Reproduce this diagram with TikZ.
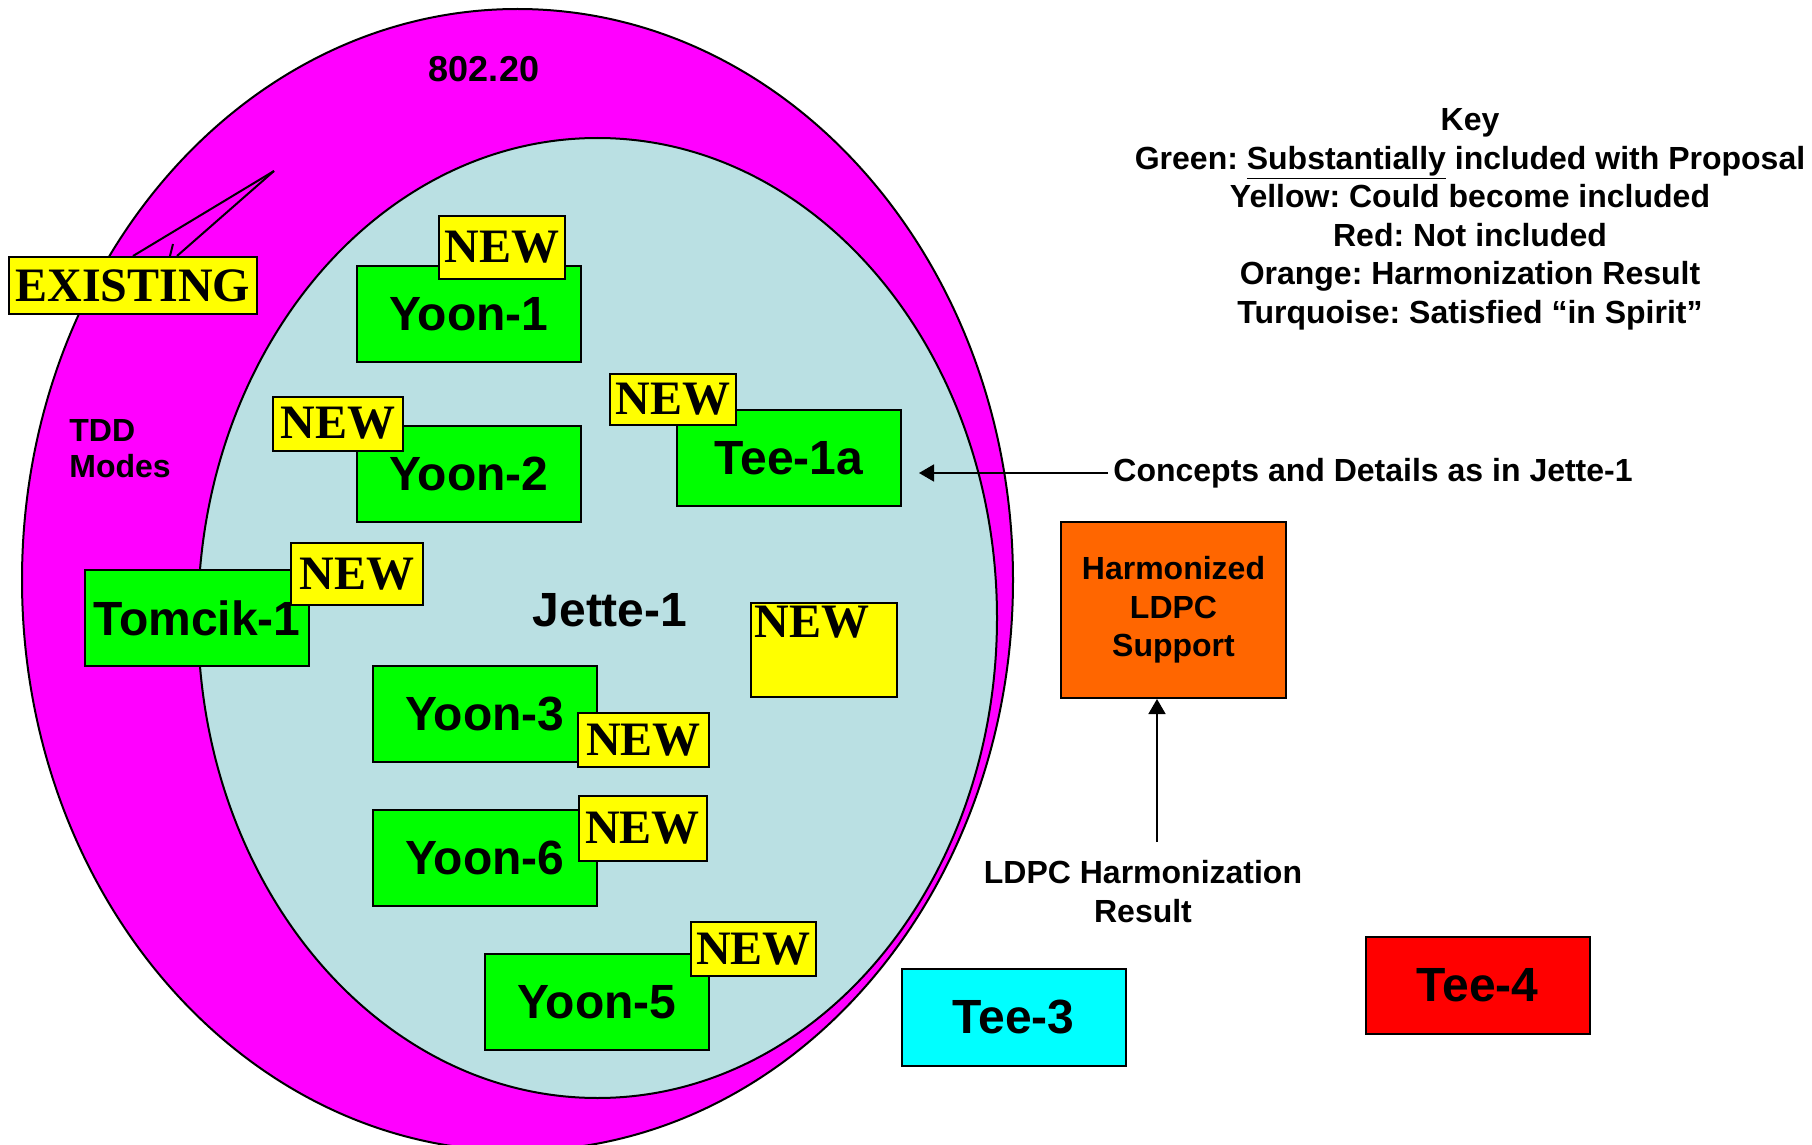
\documentclass[tikz,border=0pt]{standalone}
\usepackage{fontspec}
\setmainfont{Liberation Sans}
\newfontfamily\serifbold{Liberation Serif}
\usetikzlibrary{arrows.meta}
\frenchspacing

\definecolor{ringpink}{RGB}{255,0,255}
\definecolor{paleblue}{RGB}{186,224,227}
\definecolor{boxgreen}{RGB}{0,255,0}
\definecolor{boxyellow}{RGB}{255,255,0}
\definecolor{boxorange}{RGB}{255,102,0}
\definecolor{boxcyan}{RGB}{0,255,255}
\definecolor{boxred}{RGB}{255,0,0}

\tikzset{
    labelbox/.style = {draw, line width=1pt, inner sep=0pt, minimum width=112pt, minimum height=48pt, font=\bfseries\fontsize{24}{28}\selectfont},
    greenbox/.style = {labelbox, fill=boxgreen},
    newbox/.style = {draw, line width=1pt, fill=boxyellow, inner sep=0pt, minimum width=64pt, minimum height=27pt, font=\serifbold\bfseries\fontsize{24}{28}\selectfont},
    keytext/.style = {font=\bfseries\fontsize{16}{19.25}\selectfont, align=center, inner sep=0pt},
    pointer/.style = {line width=0.8pt, -{Triangle[length=7.5pt, width=8.5pt]}},
}

\begin{document}
\begin{tikzpicture}[x=0.5pt, y=-0.5pt]
    \useasboundingbox (0, 0) rectangle (1812, 1145);

    % the two rings
    \draw[line width=1pt, fill=ringpink] (517.5, 580) ellipse [x radius=495.5, y radius=571];
    \draw[line width=1pt, fill=paleblue] (597.5, 618) ellipse [x radius=399.5, y radius=480];

    \node[font=\bfseries\fontsize{18}{22}\selectfont, inner sep=0pt] (std) at (484, 69) {802.20};
    \node[font=\bfseries\fontsize{16}{18}\selectfont, align=left, inner sep=0pt, anchor=west] (tdd) at (69, 448.5) {TDD\\Modes};
    \node[font=\bfseries\fontsize{24}{28}\selectfont, inner sep=0pt] (jette) at (610, 610) {Jette-1};

    % proposals
    \node[greenbox] (yoon1) at (469, 314) {Yoon-1};
    \node[greenbox] (yoon2) at (469, 474) {Yoon-2};
    \node[greenbox] (tee1a) at (789, 458) {Tee-1a};
    \node[greenbox] (tomcik) at (197, 618) {Tomcik-1};
    \node[greenbox] (yoon3) at (485, 714) {Yoon-3};
    \node[greenbox] (yoon6) at (485, 858) {Yoon-6};
    \node[greenbox] (yoon5) at (597, 1002) {Yoon-5};
    \node[labelbox, fill=boxcyan, minimum height=48.5pt] (tee3) at (1013.5, 1017.5) {Tee-3};
    \node[labelbox, fill=boxred, minimum height=48.5pt] (tee4) at (1477.5, 985.5) {Tee-4};

    % tags
    \node[newbox, minimum width=63pt, minimum height=31.5pt] (new1) at (502, 247.5) {NEW};
    \node[newbox, minimum width=65pt] (new2) at (338, 423.5) {NEW};
    \node[newbox, minimum width=63pt, minimum height=25.5pt] (newtee) at (673, 399.5) {NEW};
    \node[newbox, minimum width=66pt, minimum height=31pt] (newtom) at (357, 574) {NEW};
    \node[newbox, minimum width=65.5pt] (new3) at (643.5, 740) {NEW};
    \node[newbox, minimum height=32.5pt] (new6) at (642.5, 828.5) {NEW};
    \node[newbox, minimum width=62.5pt] (new5) at (753.5, 949) {NEW};
    \node[newbox, minimum width=73pt, minimum height=47pt,
        label={[font=\serifbold\bfseries\fontsize{24}{28}\selectfont, anchor=north west, inner sep=2pt]north west:NEW}] (newfree) at (824, 650) {};

    \node[newbox, minimum width=124pt, minimum height=28.5pt] (existing) at (133, 285.5) {EXISTING};
    \coordinate (exhub) at (274, 171);
    \draw[line width=1pt] (existing.north) -- (exhub);
    \draw[line width=1pt] ([xshift=22pt]existing.north) -- (exhub);
    \draw[line width=1pt] ([xshift=18.5pt]existing.north) -- ++(3, -12);

    % key
    \node[keytext] (key) at (1470, 219.5) {Key\\Green: \underline{Substantially} included with Proposal\\Yellow: Could become included\\Red: Not included\\Orange: Harmonization Result\\Turquoise: Satisfied “in Spirit”};

    \node[keytext, inner sep=2.5pt, anchor=west] (concepts) at (1108, 473) {Concepts and Details as in Jette-1};
    \draw[pointer] (concepts.west) -- ([xshift=8.5pt]tee1a.east |- concepts.west);

    \node[labelbox, fill=boxorange, minimum width=112.5pt, minimum height=88pt, keytext] (harm) at (1173.5, 610) {Harmonized\\LDPC\\Support};
    \node[keytext, inner ysep=9pt] (ldpcres) at (1143, 891.5) {LDPC Harmonization\\Result};
    \coordinate (ldpcx) at (1157, 0);
    \draw[pointer] (ldpcres.north -| ldpcx) -- (harm.south -| ldpcx);
\end{tikzpicture}
\end{document}
